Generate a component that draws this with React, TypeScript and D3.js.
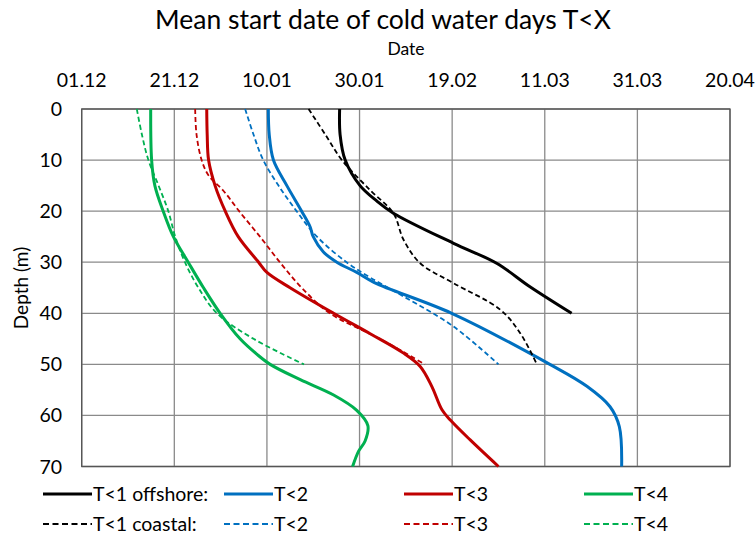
import React from "react";
import * as d3 from "d3";

// x value = days since 01.12; y = depth (m)
const xTickLabels = ["01.12", "21.12", "10.01", "30.01", "19.02", "11.03", "31.03", "20.04"];
const xTickDays = [0, 20, 40, 60, 80, 100, 120, 140];
const yTicks = [0, 10, 20, 30, 40, 50, 60, 70];

const t1OffDepth = [0, 5, 10, 15, 18, 20.4, 26.3, 30.2, 34.8, 40];
const t1OffDay = [55.7, 55.8, 56.9, 60.1, 63.7, 67.3, 80.3, 89.6, 96.8, 105.8];

const t1CoastDepth = [0, 5, 10, 15.9, 20.4, 25.6, 30.2, 34.1, 39.3, 43.9, 50];
const t1CoastDay = [49.0, 52.6, 56.2, 62.3, 67.3, 69.5, 73.1, 80.3, 90.4, 94.7, 98.3];

const t2OffDepth = [0, 5, 10, 15, 20, 23, 25, 28, 30, 32, 34, 40, 50, 54.3, 58.3, 62.2, 70];
const t2OffDay = [40.3, 40.5, 41.4, 44.3, 47.5, 49.3, 50.0, 52.2, 55.1, 59.4, 63.2, 79.9, 101.1, 109.1, 114.1, 116.1, 116.6];

const t2CoastDepth = [0, 5, 10, 15, 20, 25, 30, 33, 36.7, 42.6, 50];
const t2CoastDay = [35.3, 37.1, 39.2, 42.5, 46.4, 50.8, 57.2, 62.3, 69.5, 80.3, 90.0];

const t3OffDepth = [0, 5, 10, 15, 20, 25, 30, 32, 35, 40, 44, 47.8, 50.4, 54.3, 58.9, 60.9, 64.8, 70];
const t3OffDay = [27.0, 27.1, 27.4, 28.8, 31.0, 33.8, 38.2, 40.0, 45.0, 54.4, 62.3, 69.5, 73.1, 75.6, 77.8, 79.6, 83.9, 90.0];

const t3CoastDepth = [0, 5, 10, 13, 16, 20, 25, 30, 35, 40, 45, 50];
const t3CoastDay = [24.5, 24.8, 25.9, 27.4, 30.6, 34.0, 38.5, 42.8, 47.5, 53.6, 64.4, 74.1];

const t4OffDepth = [0, 10, 15, 20, 25, 30, 35, 40, 45, 48, 50, 53, 56, 59, 62, 65, 67, 70];
const t4OffDay = [14.9, 15.1, 15.8, 17.6, 19.8, 23.0, 26.3, 29.9, 34.2, 37.8, 40.7, 47.2, 54.4, 59.4, 61.8, 61.2, 59.8, 58.5];

const t4CoastDepth = [0, 5, 10, 15, 20, 25, 30, 35, 40, 45, 50];
const t4CoastDay = [11.9, 13.0, 14.4, 16.6, 18.7, 20.2, 22.3, 25.2, 29.2, 37.1, 48.0];

const legendNames = ["T<1 offshore:", "T<2", "T<3", "T<4", "T<1 coastal:", "T<2", "T<3", "T<4"];

const BLACK = "#000000";
const BLUE = "#0070C0";
const RED = "#C00000";
const GREEN = "#00B050";

const series = [
  { depth: t1OffDepth, day: t1OffDay, color: BLACK, dashed: false },
  { depth: t2OffDepth, day: t2OffDay, color: BLUE, dashed: false },
  { depth: t3OffDepth, day: t3OffDay, color: RED, dashed: false },
  { depth: t4OffDepth, day: t4OffDay, color: GREEN, dashed: false },
  { depth: t1CoastDepth, day: t1CoastDay, color: BLACK, dashed: true },
  { depth: t2CoastDepth, day: t2CoastDay, color: BLUE, dashed: true },
  { depth: t3CoastDepth, day: t3CoastDay, color: RED, dashed: true },
  { depth: t4CoastDepth, day: t4CoastDay, color: GREEN, dashed: true },
];

const FONT = "Lato, 'Open Sans', sans-serif";

export default function App() {
  const W = 756, H = 546;
  const left = 81.7, right = 730, top = 109, bottom = 466.5;
  const x = d3.scaleLinear().domain([0, 140]).range([left, right]);
  const y = d3.scaleLinear().domain([0, 70]).range([top, bottom]);

  const line = (s: typeof series[0]) =>
    d3
      .line<number>()
      .x((_, i) => x(s.day[i]))
      .y((dd) => y(dd))
      .curve(d3.curveCatmullRom.alpha(0.5))(s.depth) || "";

  const legendCols = [43, 224, 404, 584];
  const legendRows = [494, 524];

  return (
    <svg width={W} height={H} style={{ position: "absolute", left: 0, top: 0, background: "#fff" }}>
      <rect x={0} y={0} width={W} height={H} fill="#fff" />
      <text x={383} y={29} textAnchor="middle" fontFamily={FONT} fontSize={26.5} fill="#000">
        Mean start date of cold water days T&lt;X
      </text>
      <text x={406} y={55} textAnchor="middle" fontFamily={FONT} fontSize={17.5} fill="#000">
        Date
      </text>
      {xTickDays.map((d, i) => (
        <g key={"xt" + i}>
          <line x1={x(d)} x2={x(d)} y1={top} y2={bottom} stroke="#8a8a8a" strokeWidth={1.3} />
          <text x={x(d)} y={87} textAnchor="middle" fontFamily={FONT} fontSize={19.5} fill="#000">
            {xTickLabels[i]}
          </text>
        </g>
      ))}
      {yTicks.map((t) => (
        <g key={"yt" + t}>
          <line x1={left} x2={right} y1={y(t)} y2={y(t)} stroke="#8a8a8a" strokeWidth={1.3} />
          <text x={62} y={y(t) + 7} textAnchor="end" fontFamily={FONT} fontSize={19.5} fill="#000">
            {t}
          </text>
        </g>
      ))}
      <rect x={left} y={top} width={right - left} height={bottom - top} fill="none" stroke="#555" strokeWidth={1.3} />
      <text
        transform={`translate(28, 288) rotate(-90)`}
        textAnchor="middle"
        fontFamily={FONT}
        fontSize={19}
        fill="#000"
      >
        Depth (m)
      </text>
      {series.map((s, i) => (
        <path
          key={"s" + i}
          d={line(s)}
          fill="none"
          stroke={s.color}
          strokeWidth={s.dashed ? 1.8 : 3}
          strokeDasharray={s.dashed ? "5,3" : undefined}
          strokeLinejoin="round"
        />
      ))}
      {series.map((s, i) => {
        const col = i % 4;
        const row = Math.floor(i / 4);
        const lx = legendCols[col];
        const ly = legendRows[row];
        return (
          <g key={"lg" + i}>
            <line
              x1={lx}
              x2={lx + 49}
              y1={ly}
              y2={ly}
              stroke={s.color}
              strokeWidth={s.dashed ? 1.8 : 3}
              strokeDasharray={s.dashed ? "6,3.5" : undefined}
            />
            <text x={lx + 50} y={ly + 7} fontFamily={FONT} fontSize={19.5} fill="#000">
              {legendNames[i]}
            </text>
          </g>
        );
      })}
    </svg>
  );
}
